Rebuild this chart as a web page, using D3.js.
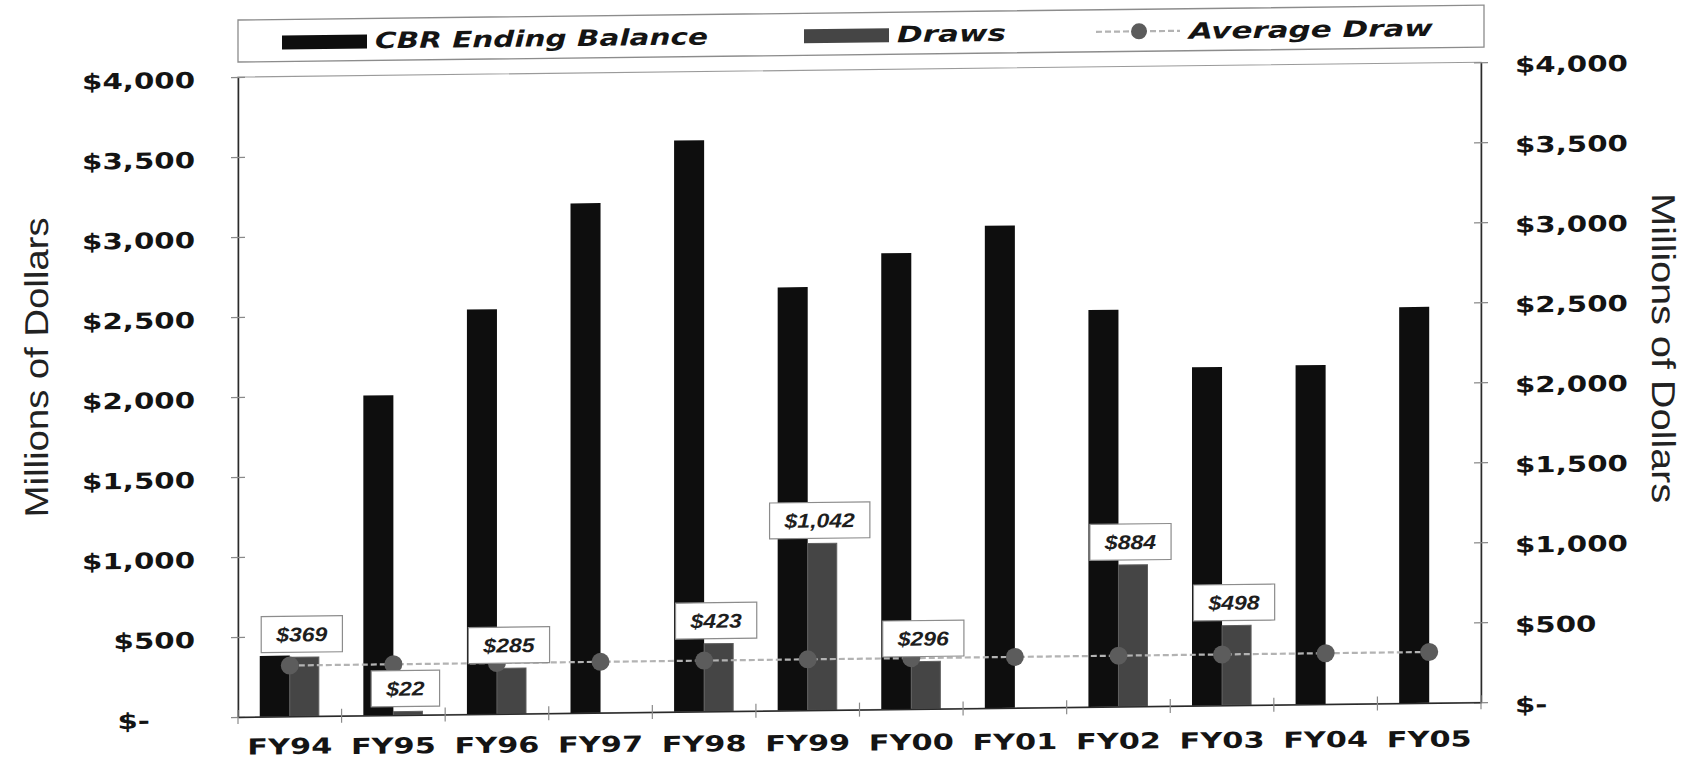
<!DOCTYPE html>
<html>
<head>
<meta charset="utf-8">
<script src="https://cdnjs.cloudflare.com/ajax/libs/d3/7.8.5/d3.min.js"></script>
<style>
  html, body { margin: 0; padding: 0; background: #ffffff; }
  svg { display: block; }
</style>
</head>
<body>
<svg id="chart" width="1685" height="762"></svg>
<script>
// ---- data ----
const categories = ["FY94", "FY95", "FY96", "FY97", "FY98", "FY99", "FY00", "FY01", "FY02", "FY03", "FY04", "FY05"];
const cbrBalance = [380, 2000, 2530, 3185, 3570, 2645, 2850, 3015, 2480, 2115, 2120, 2475];
const draws      = [369, 22, 285, 0, 423, 1042, 296, 0, 884, 498, 0, 0];
const averageDraw = [318, 318, 318, 318, 318, 318, 318, 318, 318, 318, 318, 318];
const yTicks = [0, 500, 1000, 1500, 2000, 2500, 3000, 3500, 4000];
const seriesNames = ["CBR Ending Balance", "Draws", "Average Draw"];
const axisTitle = "Millions of Dollars";

// ---- layout ----
const W = 1685, H = 762;
const plot = { left: 238, right: 1481, top: 77, bottom: 717 };
const tilt = 0.68; // degrees the whole sheet leans
const tiltK = Math.tan(tilt * Math.PI / 180);

const colors = { cbr: "#0e0e0e", draws: "#454545", avgLine: "#b3b3b3", avgDot: "#5c5c5c", axis: "#2a2a2a", frame: "#9a9a9a" };
const tickFont = "'DejaVu Sans', Verdana, sans-serif";
const labelFont = "'Liberation Sans', Arial, sans-serif";

const svg = d3.select("#chart");
svg.append("rect").attr("width", W).attr("height", H).attr("fill", "#ffffff");

const g = svg.append("g")
  .attr("transform", `translate(0,${tiltK * plot.left}) skewY(${-tilt})`);

// widen glyphs horizontally
function stretch(sel, k) {
  sel.each(function () {
    const w = this.getComputedTextLength();
    this.setAttribute("textLength", (w * k).toFixed(1));
    this.setAttribute("lengthAdjust", "spacingAndGlyphs");
  });
}

// ---- scales ----
const y = d3.scaleLinear().domain([0, 4000]).range([plot.bottom, plot.top]);
const x0 = d3.scaleBand().domain(categories).range([plot.left, plot.right])
  .paddingInner(0.42).paddingOuter(0.21);
const x1 = d3.scaleBand().domain(["cbr", "draws"]).range([0, x0.bandwidth()]);
const fmt = v => v === 0 ? "$-" : "$" + d3.format(",")(v);

// ---- plot frame ----
g.append("rect")
  .attr("x", plot.left).attr("y", plot.top)
  .attr("width", plot.right - plot.left).attr("height", plot.bottom - plot.top)
  .attr("fill", "none").attr("stroke", colors.frame).attr("stroke-width", 1.2);

// ---- bars ----
const rows = categories.map((c, i) => ({ c, cbr: cbrBalance[i], draws: draws[i], avg: averageDraw[i] }));

g.append("g").selectAll("rect.cbr").data(rows).join("rect")
  .attr("class", "cbr")
  .attr("x", d => x0(d.c) + x1("cbr"))
  .attr("width", x1.bandwidth())
  .attr("y", d => y(d.cbr))
  .attr("height", d => y(0) - y(d.cbr))
  .attr("fill", colors.cbr);

g.append("g").selectAll("rect.draws").data(rows.filter(d => d.draws > 0)).join("rect")
  .attr("class", "draws")
  .attr("x", d => x0(d.c) + x1("draws"))
  .attr("width", x1.bandwidth() - 1)
  .attr("y", d => y(d.draws))
  .attr("height", d => y(0) - y(d.draws))
  .attr("fill", colors.draws)
  .attr("stroke", "#5e5e5e").attr("stroke-width", 1);

// ---- average draw line ----
const cx = d => x0(d.c) + x0.bandwidth() / 2;
g.append("path").datum(rows)
  .attr("d", d3.line().x(cx).y(d => y(d.avg)))
  .attr("fill", "none").attr("stroke", colors.avgLine)
  .attr("stroke-width", 2.2).attr("stroke-dasharray", "6,3");
g.append("g").selectAll("circle").data(rows).join("circle")
  .attr("cx", cx).attr("cy", d => y(d.avg)).attr("r", 9)
  .attr("fill", colors.avgDot);

// ---- axes ----
const leftAxis = g.append("g").attr("transform", `translate(${plot.left},0)`)
  .call(d3.axisLeft(y).tickValues(yTicks).tickFormat(fmt).tickSizeOuter(0));
const rightAxis = g.append("g").attr("transform", `translate(${plot.right},0)`)
  .call(d3.axisRight(y).tickValues(yTicks).tickFormat(fmt).tickSizeOuter(0));

[leftAxis, rightAxis].forEach((ax, side) => {
  ax.select(".domain").attr("stroke", colors.axis).attr("stroke-width", 1.5);
  ax.selectAll(".tick line").attr("x1", -7).attr("x2", 7).attr("stroke", "#8a8a8a").attr("stroke-width", 1.2);
  ax.selectAll(".tick text")
    .attr("font-family", tickFont).attr("font-weight", "bold").attr("font-size", 22)
    .attr("fill", "#141414")
    .attr("y", 3)
    .attr("text-anchor", side === 0 ? "end" : "start")
    .attr("x", d => side === 0 ? (d === 0 ? -88 : -43) : 34);
  stretch(ax.selectAll(".tick text"), 1.33);
});

const bottomAxis = g.append("g").attr("transform", `translate(0,${plot.bottom})`)
  .call(d3.axisBottom(x0).tickSize(0).tickPadding(0));
bottomAxis.select(".domain").attr("stroke", colors.axis).attr("stroke-width", 1.5);
// category names lean a little less than the plot
bottomAxis.selectAll(".tick text")
  .attr("font-family", tickFont).attr("font-weight", "bold").attr("font-size", 22)
  .attr("fill", "#141414")
  .attr("y", c => 22 + tiltK * 0.45 * (x0(c) - plot.left));
stretch(bottomAxis.selectAll(".tick text"), 1.38);

// category boundary ticks
g.append("g").selectAll("line").data(d3.range(categories.length + 1)).join("line")
  .attr("x1", i => plot.left + i * x0.step()).attr("x2", i => plot.left + i * x0.step())
  .attr("y1", plot.bottom - 7).attr("y2", plot.bottom + 7)
  .attr("stroke", "#8a8a8a").attr("stroke-width", 1.2);

// ---- value labels on draws ----
const labelG = g.append("g");
rows.filter(d => d.draws > 0).forEach(d => {
  const bx = x0(d.c) + x1("draws") + x1.bandwidth() / 2 - 3;
  const boxH = 36;
  const bottom = y(d.draws) - 5;
  const lg = labelG.append("g");
  const rect = lg.append("rect");
  const t = lg.append("text")
    .attr("x", bx).attr("y", bottom - boxH / 2)
    .attr("dy", "0.36em")
    .attr("text-anchor", "middle")
    .attr("font-family", labelFont).attr("font-weight", "bold").attr("font-style", "italic")
    .attr("font-size", 20).attr("fill", "#1e1e1e")
    .text(fmt(d.draws));
  stretch(t, 1.15);
  const tw = +t.attr("textLength");
  const bw = tw + 30;
  rect.attr("x", bx - bw / 2).attr("y", bottom - boxH)
    .attr("width", bw).attr("height", boxH)
    .attr("fill", "#ffffff").attr("stroke", "#8c8c8c").attr("stroke-width", 1.2);
});

// ---- legend ----
const leg = g.append("g");
leg.append("rect").attr("x", 238).attr("y", 20).attr("width", 1246).attr("height", 42)
  .attr("fill", "#ffffff").attr("stroke", "#8c8c8c").attr("stroke-width", 1.3);
const legItems = [
  { name: seriesNames[0], kind: "bar", color: colors.cbr, x: 282, len: 333 },
  { name: seriesNames[1], kind: "bar", color: colors.draws, x: 804, len: 109 },
  { name: seriesNames[2], kind: "line", color: colors.avgDot, x: 1096, len: 244 }
];
legItems.forEach(it => {
  if (it.kind === "bar") {
    leg.append("rect").attr("x", it.x).attr("y", 36).attr("width", 85).attr("height", 14)
      .attr("fill", it.color);
  } else {
    leg.append("line").attr("x1", it.x).attr("x2", it.x + 84).attr("y1", 42).attr("y2", 42)
      .attr("stroke", colors.avgLine).attr("stroke-width", 2.2).attr("stroke-dasharray", "6,3");
    leg.append("circle").attr("cx", it.x + 43).attr("cy", 42).attr("r", 8).attr("fill", it.color);
  }
  leg.append("text")
    .attr("x", it.x + 93).attr("y", 50)
    .attr("font-family", tickFont).attr("font-weight", "bold").attr("font-style", "italic")
    .attr("font-size", 22.5).attr("fill", "#141414")
    .attr("textLength", it.len).attr("lengthAdjust", "spacingAndGlyphs")
    .text(it.name);
});

// ---- axis titles ----
g.append("text")
  .attr("transform", "translate(36,365) rotate(-90)")
  .attr("text-anchor", "middle").attr("dy", "0.35em")
  .attr("font-family", labelFont).attr("font-size", 33).attr("fill", "#222")
  .attr("textLength", 300).attr("lengthAdjust", "spacingAndGlyphs")
  .text(axisTitle);
g.append("text")
  .attr("transform", "translate(1664,365) rotate(90)")
  .attr("text-anchor", "middle").attr("dy", "0.35em")
  .attr("font-family", labelFont).attr("font-size", 33).attr("fill", "#222")
  .attr("textLength", 310).attr("lengthAdjust", "spacingAndGlyphs")
  .text(axisTitle);
</script>
</body>
</html>
